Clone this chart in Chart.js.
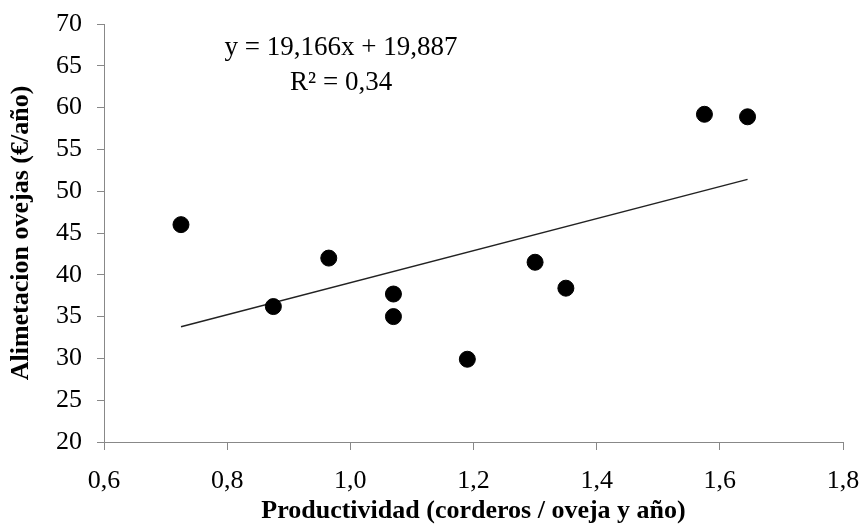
<!DOCTYPE html>
<html>
<head>
<meta charset="utf-8">
<script src="https://cdn.jsdelivr.net/npm/chart.js@4/dist/chart.umd.min.js"></script>
<style>
  html, body { margin: 0; padding: 0; background: #fff; }
  #wrap { width: 863px; height: 527px; }
</style>
</head>
<body>
<div id="wrap"><canvas id="canvas" width="863" height="527"></canvas></div>
<script>
// productividad (corderos / oveja y año)
const productividad = [0.725, 0.875, 0.965, 1.07, 1.07, 1.19, 1.30, 1.35, 1.575, 1.645];
// alimentacion ovejas (€/año)
const alimentacion = [46.0, 36.2, 42.0, 37.7, 35.0, 29.9, 41.5, 38.4, 59.2, 58.9];

// linear fit shown on the chart
const pendiente = 19.166;
const ordenada = 19.887;
const r2 = 0.34;

const xTicks = [0.6, 0.8, 1.0, 1.2, 1.4, 1.6, 1.8];
const yMin = 20, yMax = 70, yStep = 5;

const serif = "'Liberation Serif', 'Times New Roman', serif";

function coma(v, dec) {
    return v.toFixed(dec).replace('.', ',');
}

const puntos = productividad.map((x, i) => ({x: x, y: alimentacion[i]}));
const xMin = Math.min(...productividad), xMax = Math.max(...productividad);
const tendencia = [
    {x: xMin, y: pendiente * xMin + ordenada},
    {x: xMax, y: pendiente * xMax + ordenada}
];

const ecuacion = {
    id: 'ecuacion',
    afterDraw(chart) {
        const ctx = chart.ctx;
        const xs = chart.scales.x, ys = chart.scales.y;
        const cx = xs.getPixelForValue(0.985);
        ctx.save();
        ctx.fillStyle = '#000';
        ctx.font = '27px ' + serif;
        ctx.textAlign = 'center';
        ctx.textBaseline = 'middle';
        ctx.fillText('y = ' + coma(pendiente, 3) + 'x + ' + coma(ordenada, 3), cx, ys.getPixelForValue(67.2));
        ctx.fillText('R² = ' + coma(r2, 2), cx, ys.getPixelForValue(63.0));
        ctx.restore();
    }
};

const ctx = document.getElementById("canvas").getContext("2d");
const chart = new Chart(ctx, {
    type: 'scatter',
    data: {
        datasets: [{
            data: puntos,
            backgroundColor: '#000',
            borderColor: '#000',
            pointRadius: 8,
            pointHoverRadius: 8
        }, {
            data: tendencia,
            showLine: true,
            borderColor: '#222',
            borderWidth: 1.5,
            pointRadius: 0,
            fill: false
        }]
    },
    options: {
        responsive: false,
        animation: false,
        events: [],
        layout: { padding: { top: 24, right: 20, left: 0, bottom: 0 } },
        plugins: {
            legend: { display: false },
            tooltip: { enabled: false }
        },
        scales: {
            x: {
                type: 'linear',
                min: 0.6,
                max: 1.8,
                afterBuildTicks: s => { s.ticks = xTicks.map(v => ({value: v})); },
                afterFit: s => { s.height = 85; s.paddingLeft = 0; s.paddingRight = 0; },
                grid: { display: true, drawOnChartArea: false, drawTicks: true, tickLength: 8, color: '#888' },
                border: { color: '#888', width: 1 },
                ticks: {
                    color: '#000',
                    padding: 16,
                    font: { family: serif, size: 26 },
                    callback: v => coma(v, 1)
                },
                title: {
                    display: true,
                    text: 'Productividad (corderos / oveja y año)',
                    color: '#000',
                    font: { family: serif, size: 26, weight: 'bold' },
                    padding: { top: 0, bottom: 0 }
                }
            },
            y: {
                min: yMin,
                max: yMax,
                afterFit: s => { s.width = 104; s.paddingTop = 0; s.paddingBottom = 0; },
                grid: { display: true, drawOnChartArea: false, drawTicks: true, tickLength: 7, color: '#888' },
                border: { color: '#888', width: 1 },
                ticks: {
                    stepSize: yStep,
                    color: '#000',
                    padding: 15,
                    font: { family: serif, size: 26 }
                },
                title: {
                    display: true,
                    text: 'Alimetacion ovejas (€/año)',
                    color: '#000',
                    font: { family: serif, size: 26, weight: 'bold' },
                    padding: { top: 6, bottom: 0 }
                }
            }
        }
    },
    plugins: [ecuacion]
});
</script>
</body>
</html>
